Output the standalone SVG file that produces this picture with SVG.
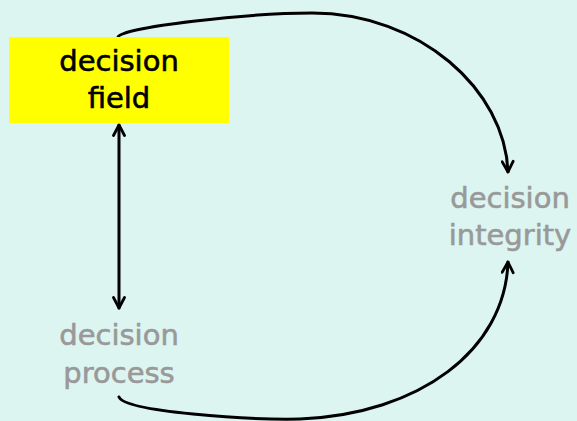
<svg xmlns="http://www.w3.org/2000/svg" width="577" height="421" viewBox="0 0 577 421">
<style>
.t{font-family:"DejaVu Sans","Noto Sans",sans-serif;font-size:29px;text-anchor:middle;stroke-width:0.6}
.dark{fill:#000;stroke:#000}
.grey{fill:#999999;stroke:#999999}
.c{fill:none;stroke:#000;stroke-width:3;stroke-linecap:round}
</style>
<defs>
<marker id="ah" viewBox="0 0 14 14" refX="12.5" refY="7" markerWidth="14" markerHeight="14" markerUnits="userSpaceOnUse" orient="auto-start-reverse">
<polyline points="2,1.5 12.5,7 2,12.5" fill="none" stroke="#000" stroke-width="2.8" stroke-linecap="round" stroke-linejoin="round"/>
</marker>
</defs>
<rect width="577" height="421" fill="#ddf5f1"/>
<g id="connectors">
<path class="c" d="M118,37 C122,27 250,13 312,13 C420,13 505,90 508,172" marker-end="url(#ah)"/>
<path class="c" d="M119,125 L119,308" marker-start="url(#ah)" marker-end="url(#ah)"/>
<path class="c" d="M119,397 C125,412 250,420 300,419 C420,414 505,350 508,262" marker-end="url(#ah)"/>
</g>
<g id="decision-field">
<rect x="9" y="37" width="220" height="86" fill="#ffff00"/>
<text class="t dark" x="119" y="71">decision</text>
<text class="t dark" x="119" y="108">field</text>
</g>
<g id="decision-integrity">
<text class="t grey" x="510" y="208">decision</text>
<text class="t grey" x="510" y="245">integrity</text>
</g>
<g id="decision-process">
<text class="t grey" x="119" y="345">decision</text>
<text class="t grey" x="119" y="383">process</text>
</g>
</svg>
